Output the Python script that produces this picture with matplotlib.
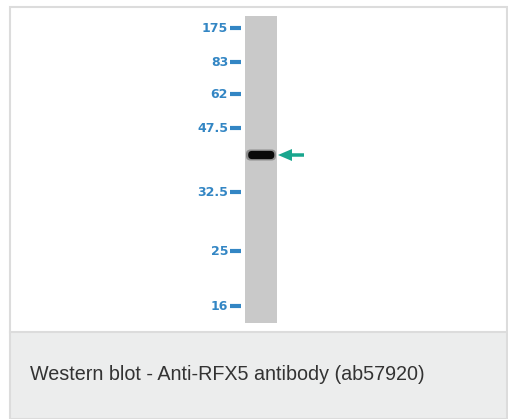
import matplotlib
matplotlib.use("Agg")
import matplotlib.pyplot as plt
from matplotlib.patches import Rectangle, FancyBboxPatch, FancyArrow

# marker ladder (kDa) and where each one sits on the blot (pixels from top)
marker_kda = ["175", "83", "62", "47.5", "32.5", "25", "16"]
marker_y = [28, 62, 94, 128, 192, 251, 306]
band_y = 155
caption = "Western blot - Anti-RFX5 antibody (ab57920)"

blue = "#3386c4"
teal = "#19a68e"

fig = plt.figure(figsize=(5.08, 4.19), dpi=100)
ax = fig.add_axes([0, 0, 1, 1])
ax.set_xlim(0, 508)
ax.set_ylim(419, 0)
ax.axis("off")

# outer frame + caption panel
ax.add_patch(Rectangle((10, 331), 497, 87, facecolor="#eceded", edgecolor="none"))
ax.add_patch(Rectangle((9.5, 7.5), 497.5, 411, facecolor="none", edgecolor="#dcdcdc", lw=1.5))
ax.plot([9.5, 507], [331.5, 331.5], color="#dcdcdc", lw=1.5)
ax.text(30, 374, caption, fontsize=14.2, family="Liberation Sans",
        color="#333333", va="center", ha="left")

# lane
ax.add_patch(Rectangle((245, 16), 32, 307, facecolor="#c9c9c9", edgecolor="none"))

# band (soft halo, then dark core)
ax.add_patch(FancyBboxPatch((247.5, band_y - 4), 27, 8, boxstyle="round,pad=1.5,rounding_size=4.5",
                            facecolor="#444444", edgecolor="none", alpha=0.45))
ax.add_patch(FancyBboxPatch((249, band_y - 3.3), 24.5, 6.6, boxstyle="round,pad=0.8,rounding_size=3.8",
                            facecolor="#0a0a0a", edgecolor="none"))

# markers
for lab, y in zip(marker_kda, marker_y):
    ax.text(228, y, lab, fontsize=9, fontweight="semibold", color=blue, ha="right", va="center")
    ax.plot([230, 241], [y, y], color=blue, lw=3, solid_capstyle="butt")

# arrow
ax.add_patch(FancyArrow(304, band_y, -26, 0, width=3.5, head_width=12, head_length=14,
                        length_includes_head=True, color=teal, lw=0))

fig.savefig("out.png", dpi=100)
